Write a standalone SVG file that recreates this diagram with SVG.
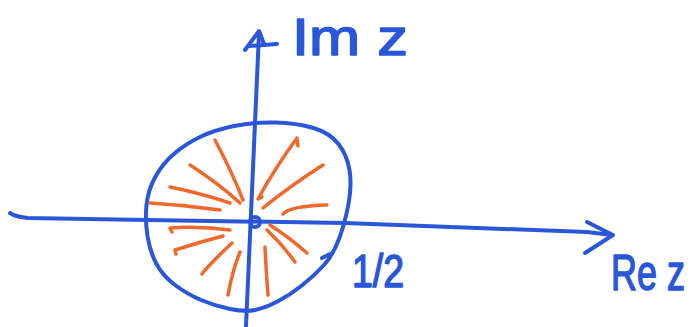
<svg xmlns="http://www.w3.org/2000/svg" width="693" height="327" viewBox="0 0 693 327">
<style>
.ax{fill:none;stroke:#2a56d8;stroke-width:4;stroke-linecap:round;stroke-linejoin:round}
.ray{fill:none;stroke:#f0692c;stroke-width:3.5;stroke-linecap:round;stroke-linejoin:round}
.lbl{fill:#2a56d8;stroke:#2a56d8;stroke-width:1.5;stroke-linejoin:round;font-family:"Liberation Sans","DejaVu Sans",sans-serif}
</style>
<rect width="693" height="327" fill="#ffffff"/>
<g id="axes">
<path class="ax" d="M10,213 Q16,217 28,218 L147,220 L345,223 L587,232 L612,235"/>
<path class="ax" d="M587,222 L613,235 L585,253"/>
<path class="ax" d="M246,326 Q252,180 259,33"/>
<path class="ax" d="M245,50 L259,31 L264,44 M249,46 L277,44"/>
</g>
<g id="disc">
<path class="ax" stroke-width="5" d="M234,126 Q253,122 275,122.5 Q297,123 313.5,128 Q330,133 338.5,144 Q347,155 349.5,170 Q352,185 348.5,204 Q345,223 339,239 Q333,255 324,265 Q315,275 302.5,285 Q290,295 277.5,301.5 Q265,308 255,310 Q245,312 230,309 Q215,306 201,300 Q187,294 175,285 Q163,276 156.5,264 Q150,252 147.5,236 Q145,220 146.5,205 Q148,190 155.5,176.5 Q163,163 175,153 Q187,143 201,136.5 Q215,130 234,126 Z"/>
<circle class="ax" cx="255" cy="222" r="5" stroke-width="3"/>
<path class="ax" stroke-width="3" d="M322,258 L330,254"/>
</g>
<g id="rays">
<path class="ray" d="M215,140 Q232,172 243,200"/>
<path class="ray" d="M190,165 Q218,183 240,203"/>
<path class="ray" d="M170,187 Q200,193 230,203"/>
<path class="ray" d="M150,203 Q185,205 220,210"/>
<path class="ray" d="M297,139 L298,146 M297,138 Q275,168 258,199 L262,197"/>
<path class="ray" d="M323,165 L318,168 M323,165 Q290,186 263,208"/>
<path class="ray" d="M283,214 Q290,206 327,205"/>
<path class="ray" d="M172,232 L170,228 Q200,226 230,230"/>
<path class="ray" d="M176,254 L175,250 Q200,242 223,236"/>
<path class="ray" d="M202,274 L205,270 Q218,256 232,243"/>
<path class="ray" d="M228,295 Q232,272 240,252"/>
<path class="ray" d="M268,295 Q266,270 265,247"/>
<path class="ray" d="M295,262 Q282,244 267,230"/>
<path class="ray" d="M307,253 Q290,238 270,225"/>
</g>
<g id="labels">
<text class="lbl" x="292" y="55" font-size="52" textLength="116" lengthAdjust="spacingAndGlyphs">Im z</text>
<text class="lbl" transform="translate(611,290) scale(0.72,1)" x="0" y="0" font-size="50">Re z</text>
<text class="lbl" x="352" y="287" font-size="46" textLength="52" lengthAdjust="spacingAndGlyphs">1/2</text>
</g>
</svg>
